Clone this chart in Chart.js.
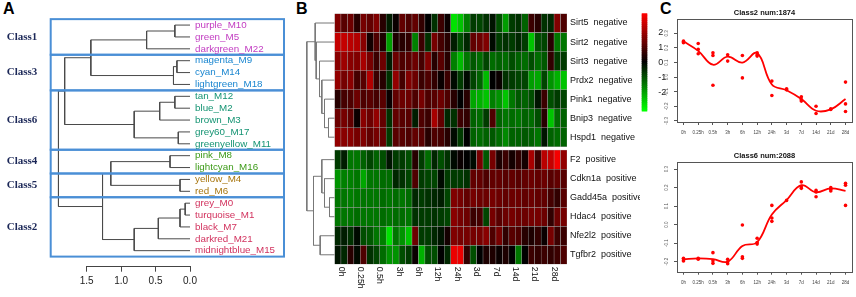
<!DOCTYPE html>
<html><head><meta charset="utf-8">
<script src="https://cdn.jsdelivr.net/npm/chart.js@4.4.1/dist/chart.umd.min.js"></script>
<style>
html,body{margin:0;padding:0;background:#fff;}
body{width:856px;height:297px;overflow:hidden;position:relative;font-family:"Liberation Sans",Arial,sans-serif;}
canvas{position:absolute;}
.pl{position:absolute;font:bold 16px "Liberation Sans",Arial,sans-serif;line-height:16px;color:#000;}
</style></head><body>
<div class="pl" style="left:3px;top:1px">A</div>
<div class="pl" style="left:296px;top:1px">B</div>
<div class="pl" style="left:660px;top:1px">C</div>
<canvas id="cA" width="300" height="297" style="left:0;top:0"></canvas>
<canvas id="cHD" width="36" height="297" style="left:300px;top:0"></canvas>
<canvas id="cHM" width="340" height="297" style="left:300px;top:0"></canvas>
<canvas id="cKey" width="40" height="120" style="left:636px;top:0"></canvas>
<canvas id="cC2" width="216" height="148" style="left:640px;top:0"></canvas>
<canvas id="cC6" width="216" height="149" style="left:640px;top:148px"></canvas>
<script>
// ---------------- DATA ----------------
const timeLabels = ['0h','0.25h','0.5h','3h','6h','12h','24h','3d','7d','14d','21d','28d'];

// Panel A: module dendrogram
const moduleNames = ['purple_M10','green_M5','darkgreen_M22','magenta_M9','cyan_M14','lightgreen_M18',
  'tan_M12','blue_M2','brown_M3','grey60_M17','greenyellow_M11','pink_M8','lightcyan_M16',
  'yellow_M4','red_M6','grey_M0','turquoise_M1','black_M7','darkred_M21','midnightblue_M15'];
const moduleClass = ['Class1','Class1','Class1','Class3','Class3','Class3',
  'Class6','Class6','Class6','Class6','Class6','Class4','Class4',
  'Class5','Class5','Class2','Class2','Class2','Class2','Class2'];
const classNames = ['Class1','Class3','Class6','Class4','Class5','Class2'];
const classColors = ['#c23cc2','#1a86d0','#159473','#3d9b18','#a8760f','#d2325e'];
// merges: [a, b, height]  (negative = leaf number, positive = earlier merge)
const moduleMerges = [
  [-1,-2,0.22],[1,-3,0.63],[-4,-5,0.19],[3,-6,0.24],[2,4,1.44],
  [-7,-8,0.22],[6,-9,0.44],[-10,-11,0.17],[7,8,0.81],[5,9,1.82],
  [-12,-13,0.29],[-14,-15,0.145],[11,12,1.15],
  [-16,-17,0.07],[14,-18,0.145],[15,-19,0.46],[16,-20,0.81],[13,17,1.27],
  [10,18,1.91]
];
const heightTicks = [1.5,1.0,0.5,0.0];

// Panel B: heatmap
const geneNames = ['Sirt5','Sirt2','Sirt3','Prdx2','Pink1','Bnip3','Hspd1','F2','Cdkn1a','Gadd45a','Hdac4','Nfe2l2','Tgfbr2'];
const geneCorr = ['negative','negative','negative','negative','negative','negative','negative',
  'positive','positive','positive','positive','positive','positive'];
const Sirt5 = [1.3,0.9,1.1,0.4,1.2,1.0,1.3,0.4,-0.3,0.1,1.0,0.8,1.0,0.5,0.0,-0.5,0.6,0.1,
  -2.3,-2.0,-1.3,-0.6,-0.7,-0.5,-0.2,-0.8,-1.6,-0.6,-0.5,-1.0,0.6,0.4,-0.5,-0.4,1.3,0.8];
const Sirt2 = [2.0,2.0,1.9,1.8,1.4,0.2,0.8,0.3,-1.6,0.3,0.4,0.5,-1.3,0.6,-0.5,1.2,0.7,0.4,
  -0.3,-0.8,-0.4,1.0,1.1,1.3,-0.1,-0.6,-0.5,-0.6,-0.4,-0.6,-2.0,-0.8,-0.7,0.4,-1.2,-1.2];
const Sirt3 = [1.4,1.6,1.4,1.3,1.7,1.2,0.6,1.1,-0.3,1.1,0.8,0.9,1.1,0.7,1.3,0.4,0.9,0.4,
  -1.3,-1.9,-1.2,-0.9,-1.1,-0.7,-1.1,-1.0,-1.1,-0.8,-1.0,-1.1,-0.8,-1.1,-0.9,0.5,-0.6,-0.6];
const Prdx2 = [1.5,1.2,1.4,0.7,0.9,1.8,0.6,0.4,-0.5,1.5,0.7,1.3,1.1,0.6,0.8,0.5,0.1,0.6,
  -0.1,-0.6,-0.1,-0.7,-1.0,-1.9,0.0,0.1,-0.5,-0.6,-0.7,-0.7,-1.6,-1.7,-0.7,-1.5,-1.8,-2.0];
const Pink1 = [0.4,0.7,0.8,1.1,0.8,0.9,0.7,0.9,0.1,1.0,1.1,1.1,0.8,1.2,0.8,0.9,1.1,0.8,
  0.4,0.0,0.4,-1.7,-1.8,-2.0,-1.3,-1.5,-2.0,-1.2,-0.9,-1.0,-0.8,-0.2,0.6,-0.8,-0.6,-0.7];
const Bnip3 = [1.1,1.2,1.0,0.1,1.4,1.1,1.5,1.0,-0.5,1.0,0.9,0.9,-0.3,0.8,0.6,1.7,1.0,-0.4,
  -0.5,0.6,0.5,-1.0,-1.1,-0.6,0.8,-1.0,-1.2,-1.1,-1.2,-1.0,-1.1,-0.8,0.4,-2.0,-1.1,-1.0];
const Hspd1 = [1.5,1.4,1.4,1.2,1.3,1.0,1.2,1.0,-0.6,0.9,0.9,0.8,1.0,0.9,0.4,0.8,0.7,0.4,
  -0.1,-0.6,0.0,-1.0,-1.1,-1.0,-0.9,-1.1,-1.4,-1.0,-1.0,-0.9,-1.0,-1.2,-0.2,-1.0,-1.1,-1.0];
const F2 = [-0.6,-0.3,-1.2,-1.2,-1.0,-0.7,-1.0,-0.8,-0.2,-0.6,-0.6,-0.8,0.4,-0.6,-1.1,-0.4,-0.8,-0.5,
  -0.1,0.1,0.0,-0.1,1.2,-0.9,1.2,0.3,0.6,0.2,0.5,0.2,1.7,0.6,1.9,2.0,2.5,1.5];
const Cdkn1a = [-1.5,-1.3,-1.3,-1.2,-1.7,-1.2,-1.2,-1.1,-1.1,-0.4,-0.5,-0.7,0.8,-0.6,-0.7,-0.7,-0.1,-0.6,
  -0.6,-0.6,-0.5,1.0,1.0,0.8,1.0,1.0,0.9,1.0,0.9,1.0,1.1,1.0,1.1,0.9,1.0,0.9];
const Gadd45a = [-1.2,-1.2,-1.3,-1.2,-1.2,-1.2,-1.2,-1.1,-1.2,-1.1,-1.2,-1.1,-0.4,-0.6,-0.5,-0.4,-0.3,-0.7,
  1.3,1.2,1.0,1.2,1.1,1.1,1.2,1.1,1.0,1.1,1.1,1.0,1.1,1.0,1.0,0.7,0.5,0.9];
const Hdac4 = [-1.2,-1.2,-1.2,-1.1,-1.2,-1.2,-1.2,-1.1,-1.2,-1.1,-1.1,-1.2,-0.5,-0.6,-0.6,-0.5,-0.6,-0.7,
  1.4,1.2,1.1,0.6,0.7,-0.7,1.2,0.9,1.1,1.2,1.1,1.1,1.2,1.2,1.1,0.5,1.1,1.2];
const Nfe2l2 = [-0.4,-0.3,-0.5,-0.1,-0.8,-0.9,-1.2,-1.3,-2.3,-1.2,-1.5,-2.0,1.1,-0.6,-0.6,-0.4,-0.2,0.2,
  1.3,1.2,1.2,1.2,1.2,1.4,0.8,1.2,0.5,0.9,0.8,0.4,0.3,0.5,0.1,1.2,0.6,0.6];
const Tgfbr2 = [-0.2,-0.4,0.4,-0.1,0.8,-0.5,-0.7,-1.1,-1.5,-1.5,-0.8,-0.6,0.1,-1.8,-0.8,-0.8,0.0,-0.4,
  2.4,2.4,0.5,-0.8,0.0,0.3,0.3,0.1,0.3,0.0,-1.2,0.0,0.6,0.5,0.6,0.5,0.6,0.8];
const geneRows = [Sirt5,Sirt2,Sirt3,Prdx2,Pink1,Bnip3,Hspd1,F2,Cdkn1a,Gadd45a,Hdac4,Nfe2l2,Tgfbr2];
// gene dendrogram merges [a, b, height]
const geneMerges = [
  [-6,-7,6],[-5,1,10],[-4,2,12.7],[-3,3,15],[-2,4,18.3],[-1,5,19.3],
  [-10,-11,5],[-9,7,10],[-8,8,12.7],[-12,-13,14.3],[9,10,21],[6,11,27.7]
];
const keyTicks = [-2,-1,0,1,2];

// Panel C: cluster trends
const class2Reps = [[0.247,0.235,0.242],[0.23,0.19,0.16],[0.167,0.148,-0.055],[0.153,0.11],[0.148,-0.005],
  [0.167,0.153,0.144],[-0.027,-0.126],[-0.08,-0.087],[-0.135,-0.153,-0.164],[-0.199,-0.249],
  [-0.217,-0.221],[-0.034,-0.183,-0.235]];
const class2Fit = [0.245,0.18,0.085,0.14,0.1,0.165,-0.05,-0.09,-0.15,-0.23,-0.22,-0.15];
const class6Reps = [[-0.182,-0.191,-0.196],[-0.182,-0.187],[-0.151,-0.195,-0.209],[-0.187,-0.2,-0.211],
  [-0.002,-0.173,-0.182],[-0.073,-0.096,-0.105],[0.104,0.036,0.018],[0.131],[0.231,0.204,0.196],
  [0.185,0.176,0.151],[0.2,0.191,0.182],[0.224,0.213,0.104]];
const class6Fit = [-0.187,-0.182,-0.186,-0.2,-0.115,-0.095,0.055,0.133,0.213,0.175,0.196,0.182];

// ---------------- RENDER ----------------
const FF = '"Liberation Sans", Arial, sans-serif';
Chart.defaults.font.family = FF;
const base = () => ({responsive:false, animation:false, events:[],
  plugins:{legend:{display:false}, tooltip:{enabled:false}, title:{display:false}}});

function dendroPaths(merges, leafPos){
  const nY=[], nH=[], paths=[];
  const get = id => id<0 ? {y:leafPos(-id-1), h:0} : {y:nY[id-1], h:nH[id-1]};
  merges.forEach(([a,b,h],i)=>{
    const A=get(a), B=get(b);
    paths.push([{x:A.h,y:A.y},{x:h,y:A.y},{x:h,y:B.y},{x:B.h,y:B.y}]);
    nY[i]=(A.y+B.y)/2; nH[i]=h;
  });
  return paths;
}
const lineDs = (p,color) => ({data:p, showLine:true, borderColor:color, borderWidth:1, pointRadius:0, tension:0, clip:false, fill:false});

// ---- Panel A ----
const BOX_L = 50.7, BOX_R = 284;
const pathsA = dendroPaths(moduleMerges, i => i+1);
const panelAPlugin = {id:'panelA', afterDatasetsDraw(chart){
  const {ctx, scales:{x,y}} = chart;
  ctx.save();
  classNames.forEach((c,k)=>{
    const idx = moduleClass.map((m,i)=>m===c?i+1:0).filter(i=>i>0);
    const y0 = y.getPixelForValue(Math.min(...idx)-0.5), y1 = y.getPixelForValue(Math.max(...idx)+0.5);
    ctx.strokeStyle='#4a8fd6'; ctx.lineWidth=2;
    ctx.strokeRect(BOX_L, y0, BOX_R-BOX_L, y1-y0);
    ctx.fillStyle='#1c2858'; ctx.font='bold 11px "Liberation Serif", "Times New Roman", serif';
    ctx.textAlign='center'; ctx.textBaseline='middle';
    ctx.fillText(c, 22, (y0+y1)/2);
  });
  ctx.font='9.8px '+FF; ctx.textAlign='left'; ctx.textBaseline='middle';
  moduleNames.forEach((n,i)=>{
    ctx.fillStyle = classColors[classNames.indexOf(moduleClass[i])];
    ctx.fillText(n, x.getPixelForValue(0)+5, y.getPixelForValue(i+1));
  });
  ctx.restore();
}};
new Chart(document.getElementById('cA'), {
  type:'scatter',
  data:{datasets: pathsA.map(p=>lineDs(p,'#4a4a4a'))},
  options:Object.assign(base(), {
    layout:{padding:{left:86.7, right:110, top:13.2, bottom:0}},
    scales:{
      x:{type:'linear', reverse:true, min:Math.min(...heightTicks), max:Math.max(...heightTicks),
        afterFit:s=>{s.height=30.3;},
        afterBuildTicks:s=>{s.ticks = heightTicks.map(v=>({value:v}));},
        ticks:{callback:v=>Number(v).toFixed(1), font:{size:10}, color:'#222', padding:4, maxRotation:0},
        grid:{drawOnChartArea:false, drawTicks:true, tickLength:5, color:'#444'},
        border:{color:'#444', width:1}},
      y:{type:'linear', reverse:true, min:0, max:21.35, display:false}
    }
  }),
  plugins:[panelAPlugin]
});

// ---- Panel B: heatmap ----
const GAP = 0.18;
const rowTop = r => r + (r>=7 ? GAP : 0);
const HM_LIMIT = 2.6;
function heatColor(v){
  const t = Math.max(-1, Math.min(1, v/HM_LIMIT));
  return t>=0 ? `rgb(${Math.round(255*t)},0,0)` : `rgb(0,${Math.round(-255*t)},0)`;
}
const colNames = [];
timeLabels.forEach(t=>{ for(let r=1;r<=3;r++) colNames.push(t+'_'+r); });
const HM_TOP = 13.5, HM_BOTTOM = 264.3, HM_LEFT = 334.5, HM_RIGHT = 567;
const hmYmax = geneRows.length + GAP;

const hmPlugin = {id:'hmLabels', afterDatasetsDraw(chart){
  const {ctx, scales:{x,y}, chartArea} = chart;
  ctx.save();
  ctx.fillStyle='#111'; ctx.font='9px '+FF; ctx.textAlign='left'; ctx.textBaseline='middle';
  geneNames.forEach((g,r)=>{
    ctx.fillText(g+'  '+geneCorr[r], chartArea.right+3, y.getPixelForValue(rowTop(r)+0.5));
  });
  ctx.font='8.7px '+FF;
  timeLabels.forEach((t,k)=>{
    const px = (x.getPixelForValue(3*k) + x.getPixelForValue(3*k+1))/2;
    ctx.save();
    ctx.translate(px, chartArea.bottom+2.5);
    ctx.rotate(Math.PI/2);
    ctx.textAlign='left'; ctx.textBaseline='middle';
    ctx.fillText(t, 0, 0);
    ctx.restore();
  });
  ctx.restore();
}};
new Chart(document.getElementById('cHM'), {
  type:'bar',
  data:{labels:colNames, datasets: geneRows.map((vals,r)=>({
    label:geneNames[r],
    data: vals.map(()=>[rowTop(r), rowTop(r)+1]),
    backgroundColor: vals.map(heatColor),
    borderColor:'#a3a3a3', borderWidth:0.5, borderSkipped:false,
    grouped:false, barPercentage:1, categoryPercentage:1
  }))},
  options:Object.assign(base(), {
    layout:{padding:{left:HM_LEFT-300, right:640-HM_RIGHT, top:HM_TOP, bottom:297-HM_BOTTOM}},
    scales:{
      x:{type:'category', display:false},
      y:{type:'linear', reverse:true, min:0, max:hmYmax, display:false}
    }
  }),
  plugins:[hmPlugin]
});

// gene dendrogram (canvas spans x 300..336)
const pathsG = dendroPaths(geneMerges, i => rowTop(i)+0.5);
new Chart(document.getElementById('cHD'), {
  type:'scatter',
  data:{datasets: pathsG.map(p=>lineDs(p,'#777'))},
  options:Object.assign(base(), {
    layout:{padding:{left:0, right:336-HM_LEFT, top:HM_TOP, bottom:297-HM_BOTTOM}},
    scales:{
      x:{type:'linear', reverse:true, min:0, max:HM_LEFT-300, display:false},
      y:{type:'linear', reverse:true, min:0, max:hmYmax, display:false}
    }
  })
});

// color key
const keyLevels = [];
for (let v=26; v>=-26; v--) keyLevels.push(v/10);
new Chart(document.getElementById('cKey'), {
  type:'bar',
  data:{labels:keyLevels.map(String), datasets:[{data:keyLevels.map(()=>1),
    backgroundColor:keyLevels.map(heatColor), borderWidth:0, barPercentage:1, categoryPercentage:1, inflateAmount:0.6}]},
  options:Object.assign(base(), {
    indexAxis:'y',
    layout:{padding:{left:5.7, right:0, top:13.3, bottom:8.3}},
    scales:{
      y:{type:'category', display:false},
      x:{type:'linear', min:0, max:1, display:false},
      k:{type:'linear', position:'right', min:-HM_LIMIT, max:HM_LIMIT,
        afterFit:s=>{s.width=28.7;},
        afterBuildTicks:s=>{s.ticks = keyTicks.map(v=>({value:v}));},
        ticks:{font:{size:9}, color:'#222', padding:3, callback:v=>String(v)},
        grid:{display:false}, border:{display:false}}
    }
  })
});

// ---- Panel C ----
function trendChart(id, title, reps, fit, ymin, ymax, topPad, xh){
  const pts = [];
  reps.forEach((arr,i)=>arr.forEach(v=>pts.push({x:i+1, y:v})));
  const boxPlugin = {id:'box'+id, afterDraw(chart){
    const {ctx, chartArea:a} = chart;
    ctx.save();
    ctx.strokeStyle='#555'; ctx.lineWidth=1;
    ctx.strokeRect(Math.round(a.left)+0.5, Math.round(a.top)+0.5, Math.round(a.right-a.left), Math.round(a.bottom-a.top));
    ctx.fillStyle='#111'; ctx.font='bold 7.5px '+FF; ctx.textAlign='center'; ctx.textBaseline='middle';
    ctx.fillText(title, (a.left+a.right)/2, a.top-6);
    ctx.restore();
  }};
  new Chart(document.getElementById(id), {
    type:'scatter',
    data:{datasets:[
      {data:pts, showLine:false, pointRadius:1.8, pointBackgroundColor:'#ff0000', pointBorderWidth:0, clip:false},
      {data:fit.map((v,i)=>({x:i+1,y:v})), showLine:true, borderColor:'#ff0000', borderWidth:1.8,
        pointRadius:0, tension:0.4, clip:false}
    ]},
    options:Object.assign(base(), {
      layout:{padding:{left:0, right:4, top:topPad, bottom:0}},
      scales:{
        x:{type:'linear', min:0.56, max:timeLabels.length+0.44,
          afterFit:s=>{s.height=xh;},
          afterBuildTicks:s=>{s.ticks = timeLabels.map((t,i)=>({value:i+1}));},
          ticks:{callback:(v)=>timeLabels[Math.round(v)-1], font:{size:4.5}, color:'#444', padding:5.3, maxRotation:0, autoSkip:false},
          grid:{drawOnChartArea:false, tickLength:3, color:'#555'}, border:{display:false}},
        y:{type:'linear', min:ymin, max:ymax,
          afterFit:s=>{s.width=37;},
          ticks:{stepSize:0.1, includeBounds:false, callback:v=>(Math.round(v*10)/10).toFixed(1),
            font:{size:4.5}, color:'#555', minRotation:90, maxRotation:90, crossAlign:'center', padding:3},
          grid:{drawOnChartArea:false, tickLength:3, color:'#555'}, border:{display:false}}
      }
    }),
    plugins:[boxPlugin]
  });
}
trendChart('cC2', 'Class2 num:1874', class2Reps, class2Fit, -0.307, 0.398, 19, 26);
trendChart('cC6', 'Class6 num:2088', class6Reps, class6Fit, -0.254, 0.34, 13.7, 25.3);
</script>
</body></html>
